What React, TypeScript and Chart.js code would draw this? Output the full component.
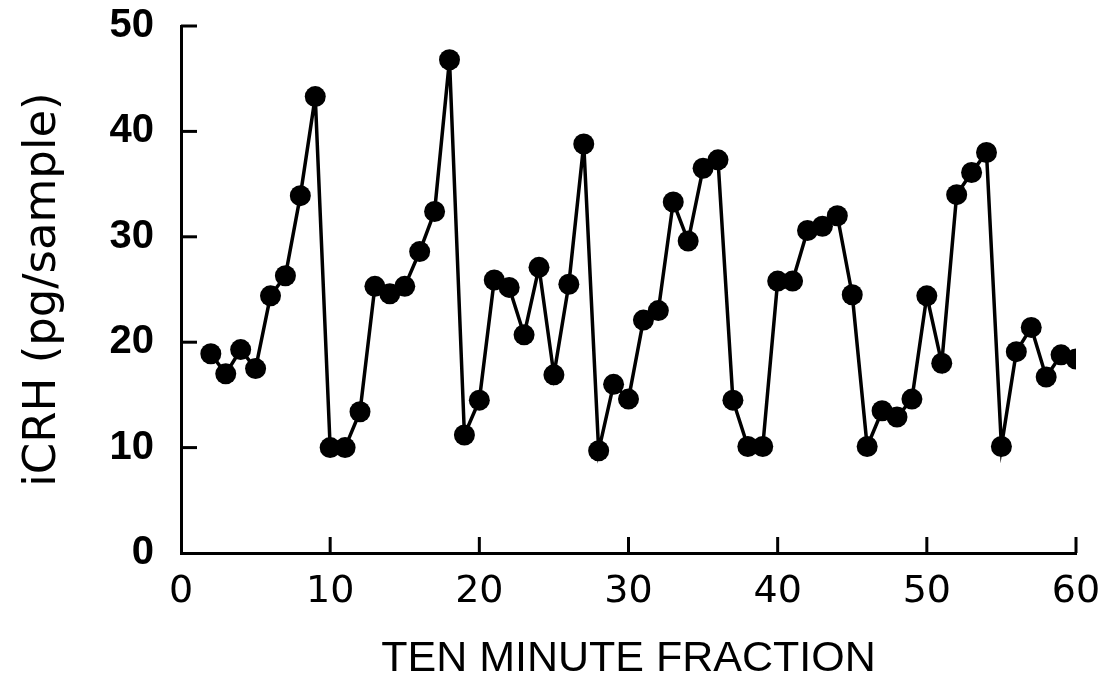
import React, { useEffect, useRef } from "react";
import { Chart, registerables } from "chart.js";

Chart.register(...registerables);

const fractions = [
  2, 3, 4, 5, 6, 7, 8, 9, 10, 11, 12, 13, 14, 15, 16, 17, 18, 19, 20, 21,
  22, 23, 24, 25, 26, 27, 28, 29, 30, 31, 32, 33, 34, 35, 36, 37, 38, 39, 40,
  41, 42, 43, 44, 45, 46, 47, 48, 49, 50, 51, 52, 53, 54, 55, 56, 57, 58, 59, 60,
];
const icrh = [
  18.9, 17.0, 19.3, 17.5, 24.4, 26.3, 33.9, 43.3, 10.0, 10.0, 13.4, 25.3, 24.6,
  25.3, 28.6, 32.4, 46.8, 11.2, 14.5, 25.9, 25.2, 20.7, 27.1, 16.9, 25.5, 38.8,
  9.7, 16.0, 14.6, 22.1, 23.0, 33.3, 29.6, 36.5, 37.3, 14.5, 10.1, 10.1, 25.8,
  25.8, 30.6, 31.0, 32.0, 24.5, 10.1, 13.5, 12.9, 14.6, 24.4, 18.0, 34.0, 36.1,
  38.0, 10.1, 19.1, 21.4, 16.7, 18.8, 18.4,
];
const xTicks = [0, 10, 20, 30, 40, 50, 60];
const yTicks = [0, 10, 20, 30, 40, 50];
const xTitle = "TEN MINUTE FRACTION";
const yTitle = "iCRH (pg/sample)";

const inwardTicks = {
  id: "inwardTicks",
  afterDraw(chart: any) {
    const { ctx, chartArea, scales } = chart;
    const len = 16;
    ctx.save();
    ctx.strokeStyle = "#000";
    ctx.lineWidth = 3;
    ctx.lineCap = "butt";
    scales.y.ticks.forEach((t: any) => {
      if (t.value === 0) return;
      const py = scales.y.getPixelForValue(t.value);
      ctx.beginPath();
      ctx.moveTo(chartArea.left, py);
      ctx.lineTo(chartArea.left + len, py);
      ctx.stroke();
    });
    scales.x.ticks.forEach((t: any) => {
      if (t.value === 0) return;
      const px = scales.x.getPixelForValue(t.value);
      ctx.beginPath();
      ctx.moveTo(px, chartArea.bottom);
      ctx.lineTo(px, chartArea.bottom - len);
      ctx.stroke();
    });
    ctx.restore();
  },
};

export default function App() {
  const ref = useRef<HTMLCanvasElement>(null);
  useEffect(() => {
    if (!ref.current) return;
    const chart = new Chart(ref.current, {
      type: "line",
      data: {
        datasets: [
          {
            data: fractions.map((x, i) => ({ x, y: icrh[i] })),
            borderColor: "#000",
            backgroundColor: "#000",
            borderWidth: 3.5,
            pointRadius: 10.5,
            pointBorderWidth: 0,
            pointBackgroundColor: "#000",
            tension: 0,
          },
        ],
      },
      options: {
        animation: false,
        responsive: false,
        layout: { padding: { top: 26, right: 29, left: 0, bottom: 0 } },
        plugins: { legend: { display: false }, tooltip: { enabled: false } },
        scales: {
          x: {
            type: "linear",
            min: 0,
            max: 60,
            afterBuildTicks: (s: any) => {
              s.ticks = xTicks.map((v) => ({ value: v }));
            },
            afterFit: (s: any) => {
              s.height = 128;
            },
            grid: { display: false, drawTicks: true, tickLength: 12 },
            border: { display: true, color: "#000", width: 3 },
            ticks: {
              color: "#000",
              padding: 4,
              maxRotation: 0,
              font: { family: "DejaVu Sans", size: 38, weight: "normal" },
            },
            title: {
              display: true,
              text: xTitle,
              color: "#000",
              padding: { top: 0, bottom: 0 },
              font: { family: "Liberation Sans", size: 43, weight: "normal", lineHeight: 1 },
            },
          },
          y: {
            type: "linear",
            min: 0,
            max: 50,
            afterBuildTicks: (s: any) => {
              s.ticks = yTicks.map((v) => ({ value: v }));
            },
            afterFit: (s: any) => {
              s.width = 181;
            },
            grid: { display: false, drawTicks: true, tickLength: 23 },
            border: { display: true, color: "#000", width: 3 },
            ticks: {
              color: "#000",
              padding: 4,
              font: { family: "Liberation Sans", size: 40, weight: "bold", lineHeight: 1 },
            },
            title: {
              display: true,
              text: yTitle,
              color: "#000",
              padding: { top: 21, bottom: 0 },
              font: { family: "DejaVu Sans", size: 45, weight: "normal", lineHeight: 1 },
            },
          },
        },
      },
      plugins: [inwardTicks],
    });
    return () => chart.destroy();
  }, []);
  return (
    <div style={{ position: "absolute", left: 0, top: 0, width: 1105, height: 681, background: "#fff" }}>
      <canvas ref={ref} width={1105} height={681} />
    </div>
  );
}
